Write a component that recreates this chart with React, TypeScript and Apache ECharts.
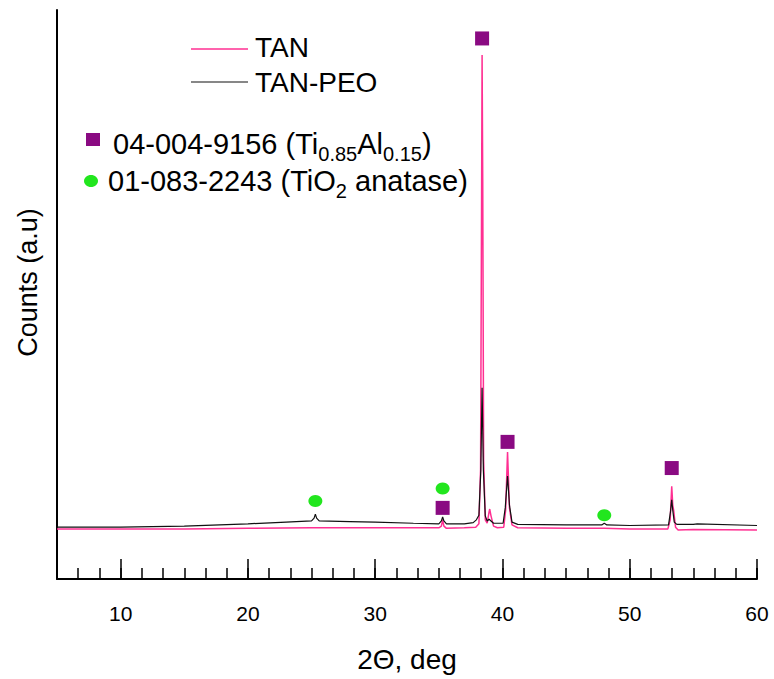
import React, { useEffect, useRef } from "react";
import * as echarts from "echarts";

// TAN (pink) pattern: 2θ in degrees and counts (a.u.)
const tanX = [5, 10, 15, 20, 25, 30, 35.0, 35.2, 35.3, 35.4, 35.6, 37.0, 37.9, 38.15, 38.28, 38.36, 38.4, 38.45, 38.52, 38.65, 38.8, 38.95, 39.0, 39.1, 39.3, 39.6, 40.1, 40.25, 40.4, 40.55, 40.75, 41.2, 45, 48, 50, 53.0, 53.18, 53.3, 53.38, 53.45, 53.6, 53.8, 55, 60];
const tanY = [88, 88, 88, 89, 90, 90, 90, 93, 104, 93, 89, 90, 91, 97, 192, 666, 921, 702, 209, 104, 98, 118, 123, 111, 93, 90, 91, 121, 223, 125, 95, 90, 89, 89, 88, 88, 104, 163, 130, 121, 91, 86, 87, 86];

// TAN-PEO (black) pattern
const peoX = [5, 10, 15, 20, 23, 25.0, 25.2, 25.3, 25.4, 25.6, 28, 30, 33, 35.0, 35.2, 35.3, 35.4, 35.6, 37.0, 37.7, 37.95, 38.15, 38.3, 38.4, 38.5, 38.65, 38.8, 38.95, 39.1, 39.3, 40.05, 40.22, 40.4, 40.55, 40.75, 41.2, 45, 47.8, 48.0, 48.2, 50, 53.05, 53.2, 53.3, 53.38, 53.5, 53.7, 55.0, 55.3, 60];
const peoY = [91, 91, 93, 97, 100, 102, 107, 114, 107, 102, 101, 100, 98, 97, 102, 109, 102, 97, 97, 99, 104, 112, 192, 336, 192, 111, 102, 105, 102, 98, 98, 125, 181, 130, 100, 96, 95, 95, 98, 95, 94, 95, 118, 139, 121, 100, 96, 96, 97, 94];

// Phase markers
const squareX = [38.4, 40.4, 53.3, 35.3];
const squareY = [950, 241, 195, 125];
const circleX = [25.3, 35.3, 48.0];
const circleY = [137, 159, 112];

const xTickLabels = [10, 20, 30, 40, 50, 60];

// Legend texts: [text, isSubscript]
const phase1Parts: [string, boolean][] = [["04-004-9156 (Ti", false], ["0.85", true], ["Al", false], ["0.15", true], [")", false]];
const phase2Parts: [string, boolean][] = [["01-083-2243 (TiO", false], ["2", true], [" anatase)", false]];

const FONT = "'Liberation Sans', Arial, Helvetica, sans-serif";
const PINK = "#ff2f92";
const PURPLE = "#8a0a82";
const GREEN = "#22e61e";
const MAIN_SIZE = 29;
const SUB_SIZE = 20;

function measure(text: string, size: number): number {
  const ctx = document.createElement("canvas").getContext("2d");
  if (!ctx) return text.length * size * 0.55;
  ctx.font = `${size}px 'Liberation Sans', Arial, sans-serif`;
  return ctx.measureText(text).width;
}

function richRow(x0: number, cy: number, parts: [string, boolean][]) {
  let x = x0;
  const els: any[] = [];
  for (const [t, sub] of parts) {
    const size = sub ? SUB_SIZE : MAIN_SIZE;
    els.push({
      type: "text",
      x,
      y: sub ? cy + 10 : cy,
      style: { text: t, fontSize: size, fontFamily: FONT, fill: "#000", verticalAlign: "middle", align: "left" },
    });
    x += measure(t, size);
  }
  return els;
}

export default function App() {
  const ref = useRef<HTMLDivElement>(null);

  useEffect(() => {
    document.body.style.margin = "0";
    if (!ref.current) return;
    const chart = echarts.init(ref.current, undefined, { renderer: "svg" });
    const option: any = {
      animation: false,
      backgroundColor: "#fff",
      grid: { left: 57, right: 17, top: 10, bottom: 100, containLabel: false },
      xAxis: [
        {
          type: "value",
          min: 5,
          max: 60,
          position: "bottom",
          name: "2\u0398, deg",
          nameLocation: "middle",
          nameGap: 66,
          nameTextStyle: { fontSize: 28, color: "#000", fontFamily: FONT },
          axisLine: { show: true, onZero: false, lineStyle: { color: "#000", width: 2 } },
          axisTick: { show: true, inside: true, length: 20, lineStyle: { color: "#000", width: 1.5 } },
          axisLabel: {
            show: true,
            margin: 24,
            fontSize: 21,
            color: "#000",
            fontFamily: FONT,
            formatter: (v: number) => (xTickLabels.indexOf(Math.round(v)) >= 0 && Math.abs(v - Math.round(v)) < 1e-6 ? String(Math.round(v)) : ""),
          },
          splitLine: { show: false },
        },
        {
          type: "value",
          min: 5,
          max: 60,
          interval: 5 / 3,
          position: "bottom",
          axisLine: { show: false, onZero: false },
          axisTick: { show: true, inside: true, length: 11, lineStyle: { color: "#000", width: 1.5 } },
          axisLabel: { show: false },
          splitLine: { show: false },
        },
      ],
      yAxis: {
        type: "value",
        min: 0,
        max: 1000,
        name: "Counts (a.u)",
        nameLocation: "middle",
        nameGap: 16,
        nameTextStyle: { fontSize: 27, color: "#000", fontFamily: FONT, padding: [0, 0, 0, 24] },
        axisLine: { show: true, lineStyle: { color: "#000", width: 2 } },
        axisTick: { show: false },
        axisLabel: { show: false },
        splitLine: { show: false },
      },
      series: [
        {
          name: "TAN",
          type: "line",
          xAxisIndex: 0,
          data: tanX.map((x, i) => [x, tanY[i]]),
          showSymbol: false,
          lineStyle: { color: PINK, width: 1.5 },
          z: 2,
        },
        {
          name: "TAN-PEO",
          type: "line",
          xAxisIndex: 0,
          data: peoX.map((x, i) => [x, peoY[i]]),
          showSymbol: false,
          lineStyle: { color: "#111", width: 1.2 },
          z: 3,
        },
        {
          name: "04-004-9156",
          type: "scatter",
          xAxisIndex: 0,
          data: squareX.map((x, i) => [x, squareY[i]]),
          symbol: "rect",
          symbolSize: 14,
          itemStyle: { color: PURPLE, opacity: 1 },
          z: 4,
        },
        {
          name: "01-083-2243",
          type: "scatter",
          xAxisIndex: 0,
          data: circleX.map((x, i) => [x, circleY[i]]),
          symbol: "circle",
          symbolSize: [14, 12],
          itemStyle: { color: GREEN, opacity: 1 },
          z: 4,
        },
      ],
      graphic: [
        { type: "line", shape: { x1: 191, y1: 49, x2: 248, y2: 49 }, style: { stroke: PINK, lineWidth: 1.5 } },
        { type: "text", x: 255, y: 47, style: { text: "TAN", fontSize: 28, fontFamily: FONT, fill: "#000", verticalAlign: "middle" } },
        { type: "line", shape: { x1: 191, y1: 82, x2: 248, y2: 82 }, style: { stroke: "#111", lineWidth: 1.2 } },
        { type: "text", x: 255, y: 82, style: { text: "TAN-PEO", fontSize: 28, fontFamily: FONT, fill: "#000", verticalAlign: "middle" } },
        { type: "rect", shape: { x: 86, y: 133, width: 14, height: 13 }, style: { fill: PURPLE } },
        ...richRow(113, 144, phase1Parts),
        { type: "ellipse", shape: { cx: 91, cy: 181, rx: 7, ry: 6 }, style: { fill: GREEN } },
        ...richRow(108, 181, phase2Parts),
      ],
    };
    chart.setOption(option);
    return () => chart.dispose();
  }, []);

  return <div ref={ref} style={{ width: 774, height: 679 }} />;
}
